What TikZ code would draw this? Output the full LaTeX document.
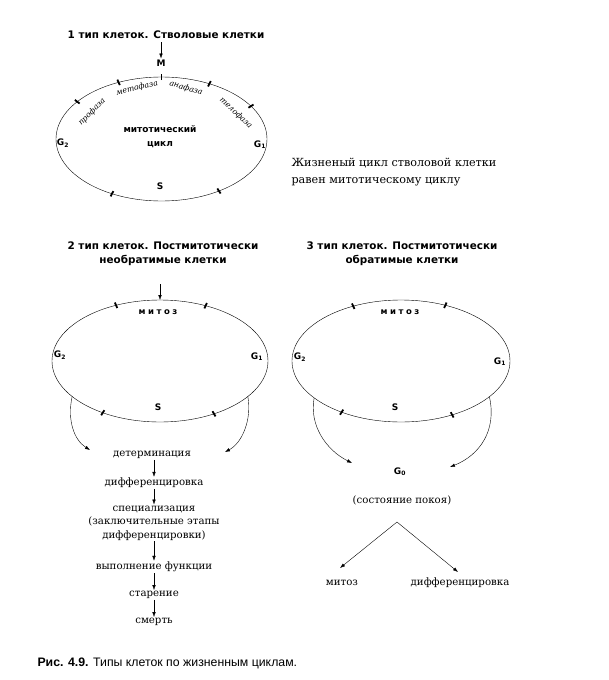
\documentclass[tikz,border=0pt]{standalone}
\usepackage{fontspec}
\setmainfont{DejaVu Serif}
\setsansfont{DejaVu Sans}
\newfontfamily\capfont{Liberation Sans}
\usetikzlibrary{arrows.meta,shapes.geometric}

\begin{document}
\begin{tikzpicture}[x=1pt,y=-1pt,
  head/.style={font=\sffamily\bfseries\fontsize{10.4}{14}\selectfont, align=center},
  label/.style={font=\sffamily\bfseries\fontsize{9}{14}\selectfont, inner sep=1pt},
  mitoz/.style={font=\sffamily\bfseries\fontsize{8.5}{10}\selectfont\addfontfeature{LetterSpace=30}},
  stage/.style={font=\fontsize{10.2}{13.5}\selectfont, align=center, inner sep=1pt},
  note/.style={font=\fontsize{11.2}{17}\selectfont, align=left},
  faze/.style={font=\itshape\fontsize{7.8}{9}\selectfont, inner sep=0pt},
  cyc/.style={draw, ellipse, inner sep=0pt, outer sep=0pt, thin},
  tick/.style={line width=1.8pt},
  flow/.style={-{Latex[length=5pt,width=3.5pt]}, thin}]

\useasboundingbox (0,0) rectangle (609,680);

% 1 -- stem cells
\node[head] (t1) at (166,35) {1 тип клеток. Стволовые клетки};
\node[label] (M) at (161,63) {M};
\node[cyc, minimum width=211, minimum height=124] (cyc1) at (161.5,139) {};
\draw[flow] (t1.south -| M) -- (M);
\begin{scope}[shift={(161.5,139)}]
  \foreach \a in {-90,-114,-63,-143,-32,118,57}
    \draw[tick] (\a:102.5 and 59) -- (\a:108.5 and 65);
\end{scope}
\node[faze, rotate=45] (pro) at (92,112) {профаза};
\node[faze, rotate=14] (meta) at (137,88) {метафаза};
\node[faze, rotate=-16] (ana) at (186,88) {анафаза};
\node[faze, rotate=-43] (telo) at (236,113) {телофаза};
\node[label, align=center] (mc) at (160,137) {митотический\\цикл};
\node[label] (g2a) at (63,143) {G\textsubscript{2}};
\node[label] (g1a) at (260,145) {G\textsubscript{1}};
\node[label] (sa) at (160,186) {S};
\node[note, anchor=west] (life) at (288,172) {Жизненый цикл стволовой клетки\\равен митотическому циклу};

% 2 -- postmitotic, irreversible
\node[head] (t2) at (163,254) {2 тип клеток. Постмитотически\\необратимые клетки};
\node[cyc, minimum width=216, minimum height=122] (cyc2) at (160,361) {};
\coordinate (in2) at (160,284);
\draw[flow] (in2) -- (cyc2.north);
\begin{scope}[shift={(160,361)}]
  \foreach \a in {-114,-65,122,60}
    \draw[tick] (\a:105 and 58) -- (\a:111 and 64);
\end{scope}
\node[mitoz] (mit2) at (158,312) {митоз};
\node[label] (g2b) at (60,355) {G\textsubscript{2}};
\node[label] (g1b) at (257,357) {G\textsubscript{1}};
\node[label] (sb) at (158,407) {S};
\coordinate (l2) at (90,450);
\coordinate (r2) at (225,452);
\draw[flow] (cyc2.-158) .. controls (67,420) and (74,440) .. (l2);
\draw[flow] (cyc2.-22) .. controls (252,420) and (242,443) .. (r2);

\node[stage] (det) at (152,455) {детерминация};
\node[stage] (dif) at (154,483) {дифференцировка};
\node[stage] (spec) at (154,523) {специализация\\(заключительные этапы\\дифференцировки)};
\node[stage] (func) at (154,567) {выполнение функции};
\node[stage] (old) at (154,595) {старение};
\node[stage] (death) at (154,622) {смерть};
\draw[flow] (det.south -| dif) -- (dif);
\draw[flow] (dif) -- (spec);
\draw[flow] (spec) -- (func);
\draw[flow] (func) -- (old);
\draw[flow] (old) -- (death);

% 3 -- postmitotic, reversible
\node[head] (t3) at (402,254) {3 тип клеток. Постмитотически\\обратимые клетки};
\node[cyc, minimum width=218, minimum height=122] (cyc3) at (401,361) {};
\begin{scope}[shift={(401,361)}]
  \foreach \a in {-116,-66,123,62}
    \draw[tick] (\a:106 and 58) -- (\a:112 and 64);
\end{scope}
\node[mitoz] (mit3) at (400,312) {митоз};
\node[label] (g2c) at (300,357) {G\textsubscript{2}};
\node[label] (g1c) at (500,362) {G\textsubscript{1}};
\node[label] (sc) at (395,407) {S};
\coordinate (l3) at (352,463);
\coordinate (r3) at (450,467);
\draw[flow] (cyc3.-157) .. controls (309,425) and (326,450) .. (l3);
\draw[flow] (cyc3.-22) .. controls (497,430) and (480,455) .. (r3);

\node[label] (g0) at (400,472) {G\textsubscript{0}};
\node[stage] (rest) at (402,500) {(состояние покоя)};
\coordinate (fork) at (397,522);
\node[stage] (mit) at (342,583) {митоз};
\node[stage] (dif3) at (460,583) {дифференцировка};
\coordinate (mt) at (340,568);
\coordinate (dt) at (458,572);
\draw[flow] (fork) -- (mt);
\draw[flow] (fork) -- (dt);

% caption
\node[font=\capfont\fontsize{12.3}{14}\selectfont, anchor=west] (cap) at (34,663)
  {\textbf{Рис. 4.9.} Типы клеток по жизненным циклам.};

\end{tikzpicture}
\end{document}
